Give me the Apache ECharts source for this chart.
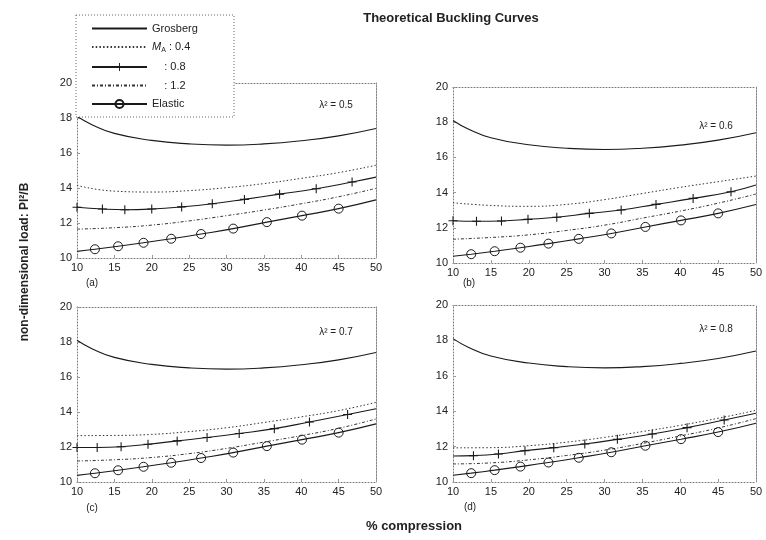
<!DOCTYPE html>
<html>
<head>
<meta charset="utf-8">
<script src="https://cdn.jsdelivr.net/npm/echarts@6/dist/echarts.min.js"></script>
<style>
  html, body { margin: 0; padding: 0; background: #fff; }
  #main { width: 766px; height: 540px; }
</style>
</head>
<body>
<div id="main"></div>
<script>
// shared curves (same in every panel)
var grosX = [10, 12, 15, 20, 25, 30, 35, 40, 45, 50];
var grosY = [18.1, 17.62, 17.12, 16.72, 16.52, 16.45, 16.52, 16.7, 16.98, 17.4];
var elasX = [10, 12.4, 15.5, 18.9, 22.6, 26.6, 30.9, 35.4, 40.1, 45, 50];
var elasY = [10.38, 10.5, 10.67, 10.87, 11.1, 11.37, 11.68, 12.05, 12.42, 12.82, 13.32];

// M_A : 0.4 and 1.2 (dotted) on the same x steps
var dotX = [10, 15, 20, 25, 30, 35, 40, 45, 50];
var m04A = [14.15, 13.82, 13.77, 13.85, 14.02, 14.25, 14.55, 14.88, 15.3];
var m04B = [13.42, 13.27, 13.22, 13.33, 13.6, 13.95, 14.3, 14.62, 14.94];
var m04C = [12.65, 12.66, 12.72, 12.88, 13.1, 13.4, 13.72, 14.08, 14.55];
var m04D = [11.93, 11.94, 12.05, 12.25, 12.52, 12.85, 13.2, 13.6, 14.05];
var m12A = [11.65, 11.73, 11.88, 12.12, 12.42, 12.74, 13.1, 13.5, 13.98];
var m12B = [11.35, 11.45, 11.6, 11.85, 12.15, 12.55, 12.95, 13.4, 13.92];
var m12C = [11.2, 11.27, 11.4, 11.62, 11.92, 12.28, 12.65, 13.07, 13.6];
var m12D = [11.02, 11.08, 11.25, 11.5, 11.8, 12.18, 12.6, 13.05, 13.58];

// M_A : 0.8 (solid with + markers)
var plusXA = [10, 13.4, 16.4, 20, 24, 28.1, 32.4, 37.1, 42, 46.8, 50];
var plusYA = [12.9, 12.8, 12.76, 12.8, 12.92, 13.1, 13.35, 13.65, 13.96, 14.34, 14.62];
var plusXB = [10, 13.1, 16.4, 19.9, 23.7, 28, 32.2, 36.8, 41.7, 46.7, 50];
var plusYB = [12.4, 12.37, 12.39, 12.48, 12.6, 12.82, 13.01, 13.33, 13.67, 14.05, 14.43];
var plusXC = [10, 12.7, 15.9, 19.5, 23.4, 27.4, 31.7, 36.4, 41.1, 46.2, 50];
var plusYC = [11.97, 11.97, 12.01, 12.16, 12.35, 12.54, 12.77, 13.05, 13.43, 13.86, 14.19];
var plusXD = [10, 12.7, 16.0, 19.5, 23.3, 27.4, 31.7, 36.3, 40.9, 45.8, 50];
var plusYD = [11.47, 11.49, 11.58, 11.77, 11.94, 12.15, 12.41, 12.71, 13.07, 13.5, 13.88];

var lambdaLabels = ['λ² = 0.5', 'λ² = 0.6', 'λ² = 0.7', 'λ² = 0.8'];
var panelLabels = ['(a)', '(b)', '(c)', '(d)'];
var xTicks = [10, 50, 5];
var yTicks = [10, 20, 2];

var chart = echarts.init(document.getElementById('main'));

var grids = [
    {left: 77, top: 83, width: 299, height: 175},
    {left: 453, top: 87, width: 303, height: 176},
    {left: 77, top: 307, width: 299, height: 175},
    {left: 453, top: 305, width: 303, height: 177}
];
var m04 = [m04A, m04B, m04C, m04D]
    ,m12 = [m12A, m12B, m12C, m12D]
    ,plusX = [plusXA, plusXB, plusXC, plusXD]
    ,plusY = [plusYA, plusYB, plusYC, plusYD];

var plusPath = 'path://M4.4,0h1.2v4.4h4.4v1.2h-4.4v4.4h-1.2v-4.4h-4.4v-1.2h4.4z';
var dotted = [1.5, 2.2];
var ink = '#1a1a1a';
var clear = 'rgba(0,0,0,0)';

function pts(xs, ys, bare) {
    return xs.map(function(x, i){
        var p = {value: [x, ys[i]]};
        if (bare && bare.indexOf(i) >= 0) p.symbol = 'none';
        return p;
    });
}

var xAxes = [], yAxes = [], series = [], graphics = [];
grids.forEach(function(g, i){
    var frame = {lineStyle: {color: '#777', type: [1, 2], width: 1}};
    xAxes.push({
        type: 'value', gridIndex: i, min: xTicks[0], max: xTicks[1], interval: xTicks[2]
        ,axisLine: frame
        ,axisTick: {inside: true, length: 3, lineStyle: {color: '#999'}}
        ,splitLine: {show: false}
        ,axisLabel: {color: '#222', fontSize: 11, fontFamily: 'Liberation Sans', margin: 4}
    });
    xAxes.push({
        type: 'value', gridIndex: i, position: 'top', min: xTicks[0], max: xTicks[1], interval: xTicks[2]
        ,axisLine: frame, axisTick: {show: false}, splitLine: {show: false}, axisLabel: {show: false}
    });
    yAxes.push({
        type: 'value', gridIndex: i, min: yTicks[0], max: yTicks[1], interval: yTicks[2]
        ,axisLine: {show: true, lineStyle: frame.lineStyle}
        ,axisTick: {show: true, inside: true, length: 3, lineStyle: {color: '#999'}}
        ,splitLine: {show: false}
        ,axisLabel: {color: '#222', fontSize: 11, fontFamily: 'Liberation Sans', margin: 5}
    });
    yAxes.push({
        type: 'value', gridIndex: i, position: 'right', min: yTicks[0], max: yTicks[1], interval: yTicks[2]
        ,axisLine: {show: true, lineStyle: {color: '#888', type: [2, 1], width: 1}}, axisTick: {show: false}
        ,splitLine: {show: false}, axisLabel: {show: false}
    });
    var xi = i * 2, yi = i * 2;
    series.push({
        name: 'Grosberg', type: 'line', xAxisIndex: xi, yAxisIndex: yi, smooth: true, symbol: 'none'
        ,lineStyle: {color: ink, width: 1.1}, itemStyle: {color: ink}
        ,data: pts(grosX, grosY)
    });
    series.push({
        name: 'M04', type: 'line', xAxisIndex: xi, yAxisIndex: yi, smooth: true, symbol: 'none'
        ,lineStyle: {color: '#333', width: 1, type: dotted}, itemStyle: {color: '#333'}
        ,data: pts(dotX, m04[i])
    });
    series.push({
        name: 'M08', type: 'line', xAxisIndex: xi, yAxisIndex: yi, smooth: true
        ,symbol: plusPath, symbolSize: 9, showAllSymbol: true
        ,lineStyle: {color: ink, width: 1.1}, itemStyle: {color: ink}
        ,data: pts(plusX[i], plusY[i], i === 3 ? [0, 10] : [10])
    });
    series.push({
        name: 'M12', type: 'line', xAxisIndex: xi, yAxisIndex: yi, smooth: true, symbol: 'none'
        ,lineStyle: {color: '#333', width: 1, type: [3, 2, 1, 2]}, itemStyle: {color: '#333'}
        ,data: pts(dotX, m12[i])
    });
    series.push({
        name: 'Elastic', type: 'line', xAxisIndex: xi, yAxisIndex: yi, smooth: true
        ,symbol: 'circle', symbolSize: 9, showAllSymbol: true
        ,lineStyle: {color: ink, width: 1.1}
        ,itemStyle: {color: clear, borderColor: ink, borderWidth: 1}
        ,data: pts(elasX, elasY, [0, 10])
    });
});

// lambda notes and panel letters
var lamPos = [[336, 105], [716, 126], [336, 332], [716, 329]];
var letPos = [[92, 283], [469, 283], [92, 508], [470, 507]];
lambdaLabels.forEach(function(t, i){
    graphics.push({type: 'text', z: 20, style: {text: t, x: lamPos[i][0], y: lamPos[i][1]
        ,textAlign: 'center', textVerticalAlign: 'middle', font: '10px "Liberation Sans"', fill: '#222'}});
    graphics.push({type: 'text', z: 20, style: {text: panelLabels[i], x: letPos[i][0], y: letPos[i][1]
        ,textAlign: 'center', textVerticalAlign: 'middle', font: '10px "Liberation Sans"', fill: '#222'}});
});
graphics.push({type: 'text', z: 20, style: {text: 'Theoretical Buckling Curves', x: 451, y: 18
    ,textAlign: 'center', textVerticalAlign: 'middle', font: 'bold 13px "Liberation Sans"', fill: '#222'}});
graphics.push({type: 'text', z: 20, style: {text: '% compression', x: 414, y: 526
    ,textAlign: 'center', textVerticalAlign: 'middle', font: 'bold 13px "Liberation Sans"', fill: '#222'}});
graphics.push({type: 'text', z: 20, rotation: Math.PI / 2, x: 25, y: 262
    ,style: {text: 'non-dimensional load: Pl²/B', x: 0, y: 0
    ,textAlign: 'center', textVerticalAlign: 'middle', font: 'bold 12px "Liberation Sans"', fill: '#222'}});
// legend box
graphics.push({type: 'rect', z: 5, shape: {x: 76, y: 15, width: 158, height: 102}
    ,style: {fill: '#fff', stroke: '#666', lineWidth: 1, lineDash: [1, 2]}});

var legendText = {
    'Grosberg': 'Grosberg'
    ,'M04': '{i|M}{s|A} : 0.4'
    ,'M08': '    : 0.8'
    ,'M12': '    : 1.2'
    ,'Elastic': 'Elastic'
};
var noDot = {color: clear, borderColor: clear, borderWidth: 0};

chart.setOption({
    animation: false
    ,backgroundColor: '#fff'
    ,grid: grids
    ,xAxis: xAxes
    ,yAxis: yAxes
    ,legend: {
        data: [
            {name: 'Grosberg', itemStyle: noDot}
            ,{name: 'M04', itemStyle: noDot}
            ,'M08'
            ,{name: 'M12', itemStyle: noDot}
            ,'Elastic'
        ]
        ,orient: 'vertical', left: 86, top: 18, z: 10
        ,itemWidth: 55, itemHeight: 10, itemGap: 7.5
        ,selectedMode: false
        ,formatter: function(name){ return legendText[name]; }
        ,textStyle: {color: '#222', fontSize: 11, fontFamily: 'Liberation Sans'
            ,rich: {i: {fontStyle: 'italic', fontSize: 11, fontFamily: 'Liberation Sans'}
                ,s: {fontSize: 7, padding: [7, 0, 0, 0], fontFamily: 'Liberation Sans'}}}
    }
    ,graphic: graphics
    ,series: series
});
</script>
</body>
</html>
